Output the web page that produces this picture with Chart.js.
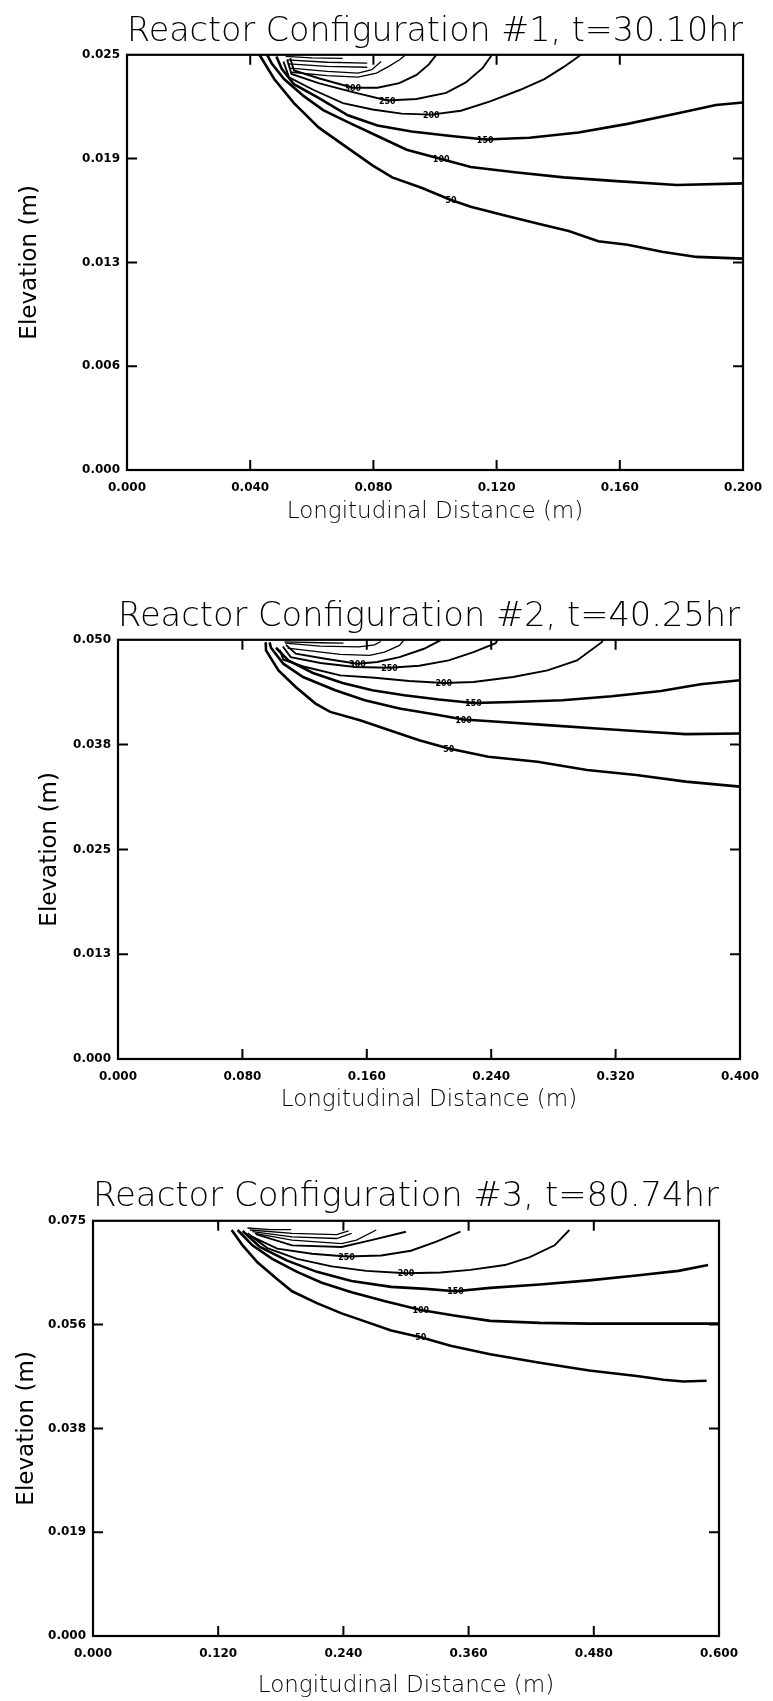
<!DOCTYPE html>
<html>
<head>
<meta charset="utf-8">
<title>Reactor Configuration contours</title>
<script src="https://cdn.jsdelivr.net/npm/chart.js@4.4.1/dist/chart.umd.min.js"></script>
<style>
  body { margin: 0; background: #fff; }
  #page { position: relative; width: 773px; height: 1701px; background: #fff; }
  canvas { position: absolute; left: 0; }
</style>
</head>
<body>
<div id="page">
  <canvas id="chart1" width="773" height="540" style="top:0px"></canvas>
  <canvas id="chart2" width="773" height="560" style="top:560px"></canvas>
  <canvas id="chart3" width="773" height="561" style="top:1140px"></canvas>
</div>
<script>
// ---- Configuration #1 (t = 30.10 hr) ----
const xTicks1 = [0, 0.04, 0.08, 0.12, 0.16, 0.2];
const xTickLabels1 = ['0.000', '0.040', '0.080', '0.120', '0.160', '0.200'];
const yTicks1 = [0, 0.00625, 0.0125, 0.01875, 0.025];
const yTickLabels1 = ['0.000', '0.006', '0.013', '0.019', '0.025'];

const c1a = [[0.0430,0.0250],[0.0478,0.02354],[0.0542,0.02209],[0.0622,0.02063],[0.0701,0.01959],[0.0797,0.01834],[0.0861,0.01762],[0.0956,0.01699],[0.1052,0.01626],[0.1116,0.01585],[0.1227,0.01533],[0.1339,0.01481],[0.1434,0.01439],[0.1530,0.01377],[0.1625,0.01356],[0.1737,0.01314],[0.1849,0.01283],[0.2000,0.01273]];
const c1b = [[0.0455,0.0250],[0.0470,0.02448],[0.0510,0.02354],[0.0574,0.02251],[0.0637,0.02167],[0.0717,0.02095],[0.0813,0.02011],[0.0908,0.01928],[0.1020,0.01872],[0.1116,0.01824],[0.1259,0.01793],[0.1418,0.01762],[0.1578,0.01741],[0.1785,0.01716],[0.2000,0.01726]];
const c1c = [[0.0485,0.0249],[0.0502,0.02417],[0.0542,0.02323],[0.0622,0.02240],[0.0717,0.02136],[0.0813,0.02074],[0.0924,0.02038],[0.1052,0.02011],[0.1163,0.01990],[0.1307,0.02001],[0.1466,0.02032],[0.1625,0.02084],[0.1785,0.02147],[0.1912,0.02198],[0.2000,0.02213]];
const c1d = [[0.0508,0.0246],[0.0526,0.02365],[0.0606,0.02288],[0.0701,0.02209],[0.0797,0.02171],[0.0892,0.02146],[0.0988,0.02140],[0.1084,0.02163],[0.1179,0.02219],[0.1275,0.02288],[0.1355,0.02354],[0.1418,0.02427],[0.1474,0.0250]];
const c1e = [[0.0520,0.0247],[0.0534,0.02385],[0.0622,0.02329],[0.0733,0.02275],[0.0845,0.02225],[0.0940,0.02234],[0.1036,0.02271],[0.1100,0.02334],[0.1155,0.02421],[0.1185,0.0250]];
const c1f = [[0.0530,0.0248],[0.0542,0.02406],[0.0622,0.02359],[0.0733,0.02302],[0.0813,0.02302],[0.0884,0.02329],[0.0940,0.02379],[0.0980,0.02442],[0.1004,0.0250]];
const c1g = [[0.0535,0.02395],[0.0650,0.02375],[0.0750,0.02365],[0.0810,0.0239],[0.0850,0.0243],[0.0885,0.0247],[0.0905,0.0250]];
const c1h = [[0.0530,0.0242],[0.0650,0.0240],[0.0750,0.0239],[0.0795,0.0241],[0.0825,0.0246]];
const c1i = [[0.0525,0.02445],[0.0650,0.02430],[0.0780,0.02425]];
const c1j = [[0.0520,0.0247],[0.0650,0.02455],[0.0780,0.0245]];
const c1k = [[0.0515,0.0249],[0.0600,0.02482],[0.0700,0.02478]];
const levelText1 = ['50', '100', '150', '200', '250', '300'];
const levelAt1 = [8, 8, 8, 6, 4, 3];

// ---- Configuration #2 (t = 40.25 hr) ----
const xTicks2 = [0, 0.08, 0.16, 0.24, 0.32, 0.4];
const xTickLabels2 = ['0.000', '0.080', '0.160', '0.240', '0.320', '0.400'];
const yTicks2 = [0, 0.0125, 0.025, 0.0375, 0.05];
const yTickLabels2 = ['0.000', '0.013', '0.025', '0.038', '0.050'];

const c2a = [[0.0950,0.0497],[0.0952,0.04873],[0.1032,0.04635],[0.1143,0.04437],[0.1270,0.04239],[0.1365,0.04140],[0.1556,0.04041],[0.1746,0.03922],[0.1937,0.03803],[0.2127,0.03704],[0.2381,0.03605],[0.2698,0.03546],[0.3016,0.03447],[0.3333,0.03388],[0.3651,0.03308],[0.4000,0.03249]];
const c2b = [[0.0975,0.0497],[0.0984,0.04905],[0.1063,0.04715],[0.1190,0.04556],[0.1397,0.04398],[0.1587,0.04279],[0.1810,0.04180],[0.2032,0.04113],[0.2222,0.04049],[0.2444,0.04022],[0.2762,0.03982],[0.3079,0.03942],[0.3397,0.03903],[0.3651,0.03875],[0.4000,0.03883]];
const c2c = [[0.1016,0.04905],[0.1095,0.04754],[0.1254,0.04604],[0.1444,0.04485],[0.1635,0.04398],[0.1841,0.04338],[0.2063,0.04287],[0.2286,0.04247],[0.2540,0.04259],[0.2857,0.04279],[0.3175,0.04326],[0.3492,0.04390],[0.3746,0.04469],[0.4000,0.04517]];
const c2d = [[0.1040,0.0488],[0.1063,0.04762],[0.1206,0.04675],[0.1429,0.04576],[0.1651,0.04548],[0.1873,0.04509],[0.2095,0.04485],[0.2286,0.04497],[0.2540,0.04556],[0.2762,0.04635],[0.2952,0.04754],[0.3111,0.04972],[0.3120,0.0500]];
const c2e = [[0.1060,0.0492],[0.1111,0.04794],[0.1302,0.04723],[0.1524,0.04675],[0.1746,0.04667],[0.1937,0.04691],[0.2127,0.04754],[0.2286,0.04853],[0.2429,0.04960],[0.2440,0.0500]];
const c2f = [[0.1080,0.0494],[0.1143,0.04834],[0.1333,0.04774],[0.1540,0.04715],[0.1667,0.04735],[0.1810,0.04794],[0.1968,0.04893],[0.2079,0.0500]];
const c2g = [[0.1090,0.0490],[0.1429,0.04826],[0.1619,0.04814],[0.1714,0.04853],[0.1810,0.04933],[0.1840,0.0500]];
const c2h = [[0.1075,0.0496],[0.1300,0.04925],[0.1550,0.04915],[0.1650,0.0494],[0.1690,0.0498]];
const c2i = [[0.1070,0.04975],[0.1300,0.04965],[0.1450,0.0496]];
const levelText2 = ['50', '100', '150', '200', '250', '300'];
const levelAt2 = [9, 8, 7, 6, 4, 3];

// ---- Configuration #3 (t = 80.74 hr) ----
const xTicks3 = [0, 0.12, 0.24, 0.36, 0.48, 0.6];
const xTickLabels3 = ['0.000', '0.120', '0.240', '0.360', '0.480', '0.600'];
const yTicks3 = [0, 0.01875, 0.0375, 0.05625, 0.075];
const yTickLabels3 = ['0.000', '0.019', '0.038', '0.056', '0.075'];

const c3a = [[0.1329,0.07334],[0.1434,0.07057],[0.1576,0.06750],[0.1766,0.06443],[0.1908,0.06227],[0.2146,0.06012],[0.2383,0.05828],[0.2620,0.05674],[0.2858,0.05520],[0.3142,0.05398],[0.3427,0.05244],[0.3807,0.05090],[0.4282,0.04936],[0.4756,0.04795],[0.5231,0.04691],[0.5468,0.04629],[0.5658,0.04598],[0.5881,0.04611]];
const c3b = [[0.1386,0.07334],[0.1528,0.07057],[0.1718,0.06811],[0.1956,0.06578],[0.2193,0.06381],[0.2478,0.06209],[0.2810,0.06043],[0.3142,0.05889],[0.3475,0.05785],[0.3807,0.05693],[0.4282,0.05656],[0.4756,0.05643],[0.5231,0.05643],[0.6000,0.05643]];
const c3c = [[0.1434,0.07316],[0.1600,0.07027],[0.1861,0.06781],[0.2146,0.06578],[0.2478,0.06412],[0.2858,0.06307],[0.3190,0.06270],[0.3475,0.06227],[0.3807,0.06289],[0.4282,0.06350],[0.4756,0.06424],[0.5231,0.06516],[0.5611,0.06596],[0.5896,0.06701]];
const c3d = [[0.1481,0.07273],[0.1671,0.07008],[0.1956,0.06811],[0.2288,0.06676],[0.2620,0.06596],[0.3000,0.06553],[0.3332,0.06565],[0.3617,0.06614],[0.3949,0.06701],[0.4187,0.06842],[0.4424,0.07057],[0.4566,0.07334]];
const c3e = [[0.1528,0.07211],[0.1766,0.06996],[0.2098,0.06904],[0.2430,0.06855],[0.2763,0.06873],[0.3047,0.06959],[0.3285,0.07119],[0.3522,0.07303]];
const c3f = [[0.1560,0.0726],[0.1908,0.07057],[0.2383,0.07027],[0.2668,0.07150],[0.2999,0.07303]];
const c3g = [[0.1552,0.07273],[0.1908,0.07150],[0.2383,0.07088],[0.2525,0.07150],[0.2715,0.07334]];
const c3h = [[0.1528,0.07303],[0.1908,0.07211],[0.2335,0.07180],[0.2478,0.07273]];
const c3i = [[0.1505,0.07334],[0.1908,0.07273],[0.2335,0.07250],[0.2450,0.0732]];
const c3j = [[0.1480,0.0737],[0.1700,0.0734],[0.1900,0.0734]];
const levelText3 = ['50', '100', '150', '200', '250'];
const levelAt3 = [9, 7, 7, 5, 3];

// layout of each panel on the page
const panels = [
  { id: 'chart1', title: 'Reactor Configuration #1, t=30.10hr', xMax: 0.2, yMax: 0.025,
    xTicks: xTicks1, xTickLabels: xTickLabels1, yTicks: yTicks1, yTickLabels: yTickLabels1,
    lines: [c1a, c1b, c1c, c1d, c1e, c1f, c1g, c1h, c1i, c1j, c1k],
    levelText: levelText1, levelAt: levelAt1,
    titleTop: 12, titleBottom: 2, yWidth: 127, yTitlePad: 16, xHeight: 70, xTitlePad: 14, padRight: 28 },
  { id: 'chart2', title: 'Reactor Configuration #2, t=40.25hr', xMax: 0.4, yMax: 0.05,
    xTicks: xTicks2, xTickLabels: xTickLabels2, yTicks: yTicks2, yTickLabels: yTickLabels2,
    lines: [c2a, c2b, c2c, c2d, c2e, c2f, c2g, c2h, c2i],
    levelText: levelText2, levelAt: levelAt2,
    titleTop: 37, titleBottom: 2, yWidth: 118, yTitlePad: 36, xHeight: 61, xTitlePad: 6, padRight: 33 },
  { id: 'chart3', title: 'Reactor Configuration #3, t=80.74hr', xMax: 0.6, yMax: 0.075,
    xTicks: xTicks3, xTickLabels: xTickLabels3, yTicks: yTicks3, yTickLabels: yTickLabels3,
    lines: [c3a, c3b, c3c, c3d, c3e, c3f, c3g, c3h, c3i, c3j],
    levelText: levelText3, levelAt: levelAt3,
    titleTop: 37, titleBottom: 3, yWidth: 93, yTitlePad: 13, xHeight: 65, xTitlePad: 1, padRight: 54 }
];

// box around the plot with short inward tick marks on all four sides
const framePlugin = {
  id: 'contourFrame',
  afterDatasetsDraw(chart) {
    const { ctx, chartArea: a, scales } = chart;
    const len = 10;
    ctx.save();
    ctx.strokeStyle = '#000';
    ctx.lineWidth = 2.2;
    ctx.strokeRect(a.left, a.top, a.right - a.left, a.bottom - a.top);
    ctx.lineWidth = 2;
    ctx.beginPath();
    scales.x.ticks.forEach(t => {
      if (t.value <= scales.x.min || t.value >= scales.x.max) return;
      const px = scales.x.getPixelForValue(t.value);
      ctx.moveTo(px, a.bottom); ctx.lineTo(px, a.bottom - len);
      ctx.moveTo(px, a.top); ctx.lineTo(px, a.top + len);
    });
    scales.y.ticks.forEach(t => {
      if (t.value <= scales.y.min || t.value >= scales.y.max) return;
      const py = scales.y.getPixelForValue(t.value);
      ctx.moveTo(a.left, py); ctx.lineTo(a.left + len, py);
      ctx.moveTo(a.right, py); ctx.lineTo(a.right - len, py);
    });
    ctx.stroke();
    ctx.restore();
  }
};

// small level numbers sitting on the contour lines
const levelPlugin = {
  id: 'contourLevels',
  afterDatasetsDraw(chart, args, opts) {
    const ctx = chart.ctx;
    ctx.save();
    ctx.font = 'bold 8px "DejaVu Sans"';
    ctx.fillStyle = '#000';
    ctx.textAlign = 'center';
    ctx.textBaseline = 'middle';
    (opts.text || []).forEach((txt, i) => {
      const pt = chart.getDatasetMeta(i).data[opts.at[i]];
      if (pt) ctx.fillText(txt, pt.x, pt.y + 1);
    });
    ctx.restore();
  }
};

const tickFont = { family: 'DejaVu Sans', size: 12, weight: 'bold' };
const xTitleFont = { family: 'DejaVu Sans', size: 23, weight: 200, lineHeight: 1.2 };
const yTitleFont = { family: 'DejaVu Sans', size: 23, weight: 'normal', lineHeight: 1.2 };

panels.forEach(p => {
  new Chart(document.getElementById(p.id), {
    type: 'scatter',
    data: {
      datasets: p.lines.map((pts, i) => ({
        data: pts.map(pt => ({ x: pt[0], y: pt[1] })),
        showLine: true,
        borderColor: '#000',
        borderWidth: i < 3 ? 2.6 : (i < 6 ? 1.9 : 1.3),
        pointRadius: 0,
        fill: false
      }))
    },
    options: {
      responsive: false,
      animation: false,
      events: [],
      layout: { padding: { left: 0, right: p.padRight, top: 0, bottom: 0 } },
      plugins: {
        legend: { display: false },
        tooltip: { enabled: false },
        title: {
          display: true,
          text: p.title,
          fullSize: false,
          color: '#000',
          font: { family: 'DejaVu Sans', size: 34, weight: 200, lineHeight: 1.2 },
          padding: { top: p.titleTop, bottom: p.titleBottom }
        },
        contourLevels: { text: p.levelText, at: p.levelAt }
      },
      scales: {
        x: {
          type: 'linear',
          min: 0,
          max: p.xMax,
          grid: { display: false, drawTicks: false },
          border: { display: false },
          afterBuildTicks: s => { s.ticks = p.xTicks.map(v => ({ value: v })); },
          afterFit: s => { s.height = p.xHeight; },
          ticks: {
            autoSkip: false,
            maxRotation: 0,
            padding: 11,
            color: '#000',
            font: tickFont,
            callback: (v, i) => p.xTickLabels[i]
          },
          title: {
            display: true,
            text: 'Longitudinal Distance (m)',
            color: '#000',
            font: xTitleFont,
            padding: { top: 0, bottom: p.xTitlePad }
          }
        },
        y: {
          type: 'linear',
          min: 0,
          max: p.yMax,
          grid: { display: false, drawTicks: false },
          border: { display: false },
          afterBuildTicks: s => { s.ticks = p.yTicks.map(v => ({ value: v })); },
          afterFit: s => { s.width = p.yWidth; },
          ticks: {
            autoSkip: false,
            padding: 7,
            color: '#000',
            font: tickFont,
            callback: (v, i) => p.yTickLabels[i]
          },
          title: {
            display: true,
            text: 'Elevation (m)',
            color: '#000',
            font: yTitleFont,
            padding: { top: p.yTitlePad, bottom: 0 }
          }
        }
      }
    },
    plugins: [framePlugin, levelPlugin]
  });
});
</script>
</body>
</html>
